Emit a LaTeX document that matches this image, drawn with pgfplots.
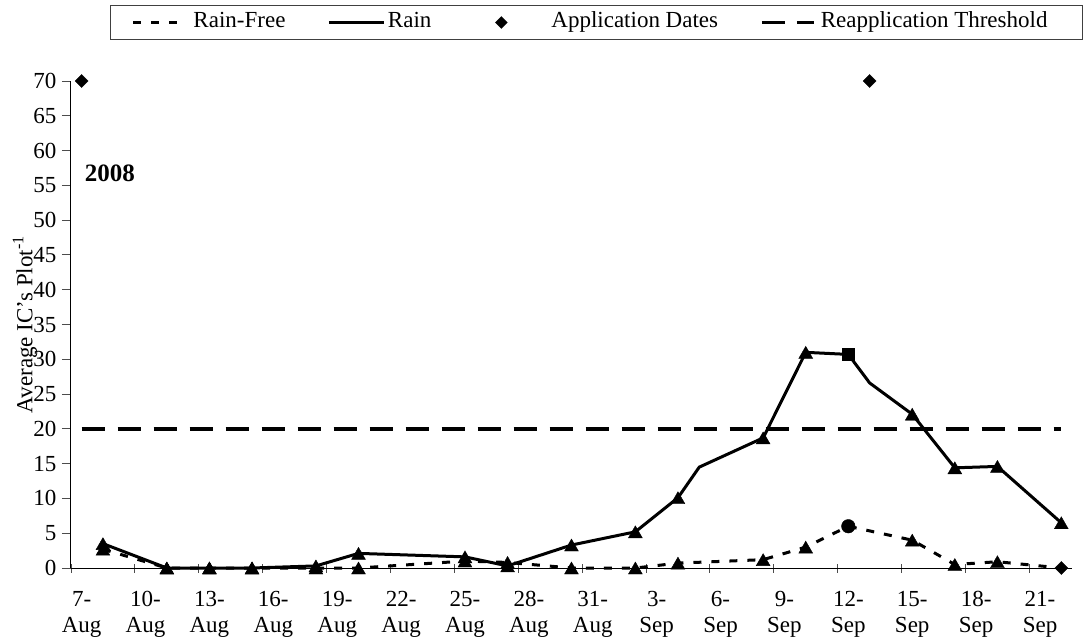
\documentclass[border=0pt]{standalone}
\usepackage{fontspec}
\setmainfont{Liberation Serif}
\usepackage{pgfplots}
\pgfplotsset{compat=1.18}
\newcommand{\dl}[2]{\strut #1\\\strut #2}
\begin{document}
\begin{tikzpicture}[font=\fontsize{23}{27}\selectfont]
\begin{axis}[
  scale only axis, width=1001pt, height=487pt,
  xmin=-0.5, xmax=46.5, ymin=0, ymax=70,
  axis x line*=bottom, axis y line*=left,
  axis line style={black, line width=1pt},
  clip=false,
  xtick={-0.5,2.5,5.5,8.5,11.5,14.5,17.5,20.5,23.5,26.5,29.5,32.5,35.5,38.5,41.5,44.5},
  xticklabels={{\dl{7-}{Aug}},{\dl{10-}{Aug}},{\dl{13-}{Aug}},{\dl{16-}{Aug}},{\dl{19-}{Aug}},{\dl{22-}{Aug}},{\dl{25-}{Aug}},{\dl{28-}{Aug}},{\dl{31-}{Aug}},{\dl{3-}{Sep}},{\dl{6-}{Sep}},{\dl{9-}{Sep}},{\dl{12-}{Sep}},{\dl{15-}{Sep}},{\dl{18-}{Sep}},{\dl{21-}{Sep}}},
  xticklabel style={align=center, font=\fontsize{23}{25.5}\selectfont, xshift=10.65pt, inner sep=0pt, anchor=north, yshift=-16pt},
  xtick align=center, ytick align=outside,
  major tick length=9pt,
  x tick style={black!70, line width=0.9pt},
  ytick={0,5,...,70},
  y tick style={black!70, line width=0.9pt},
  /pgf/number format/assume math mode=true,
  yticklabel style={font=\fontsize{23}{27}\selectfont, xshift=-2pt},
  ylabel={Average IC's Plot\textsuperscript{-1}},
  every axis y label/.style={at={(axis description cs:-0.046,0.5)}, rotate=90, anchor=center},
  legend style={at={(0.03896,1.15606)}, anchor=north west, draw=black!75, line width=1pt, inner xsep=0pt, inner ysep=6.5pt, column sep=0pt, nodes={inner sep=0pt, text height=16pt, text depth=5pt}},
  legend columns=4,
]
\addlegendimage{legend image code/.code={
  \path[draw=none, fill=none] (0pt,-2pt) rectangle (83pt,2pt);
  \draw[black, line width=3pt, dash pattern=on 8pt off 10pt] (23pt,0pt) -- (67pt,0pt);}}
\addlegendentry{Rain-Free\hspace*{42pt}}
\addlegendimage{legend image code/.code={
  \path[draw=none, fill=none] (0pt,-2pt) rectangle (59pt,2pt);
  \draw[black, line width=3pt] (0pt,0pt) -- (55pt,0pt);}}
\addlegendentry{Rain\hspace*{50pt}}
\addlegendimage{legend image code/.code={
  \path[draw=none, fill=none] (0pt,-2pt) rectangle (70pt,2pt);
  \path[fill=black, draw=none] (20pt,6.3pt) -- (26.3pt,0pt) -- (20pt,-6.3pt) -- (13.7pt,0pt) -- cycle;}}
\addlegendentry{Application Dates\hspace*{42pt}}
\addlegendimage{legend image code/.code={
  \path[draw=none, fill=none] (0pt,-2pt) rectangle (59pt,2pt);
  \draw[black, line width=3.3pt, dash pattern=on 23pt off 12pt] (0pt,0pt) -- (52pt,0pt);}}
\addlegendentry{Reapplication Threshold\hspace*{35pt}}

% threshold
\addplot[forget plot, black, line width=3.3pt, dash pattern=on 23pt off 13pt] coordinates {(0,20) (46,20)};
% rain-free
\addplot[forget plot, black, line width=3pt, dash pattern=on 8pt off 10pt] coordinates {
(1,2.7)(4,0)(6,0)(8,0)(11,0)(13,0)(18,1.0)(20,0.8)(23,0)(26,0)(28,0.7)(32,1.2)(34,3.0)(36,6.0)(39,4.0)(41,0.5)(43,0.9)(46,0)};
\addplot[forget plot, black, only marks, mark=triangle*, mark size=8pt, mark options={yshift=-2pt}] coordinates {
(1,2.7)(4,0)(6,0)(8,0)(11,0)(13,0)(18,1.0)(20,0.8)(23,0)(26,0)(28,0.7)(32,1.2)(34,3.0)(39,4.0)(41,0.5)(43,0.9)};
\addplot[forget plot, black, only marks, mark=*, mark size=6.8pt] coordinates {(36,6.0)};
\addplot[forget plot, black, only marks, mark=square*, mark size=4.6pt, mark options={rotate=45}] coordinates {(46,0)};
% rain
\addplot[forget plot, black, line width=3pt] coordinates {
(1,3.5)(4,0)(6,0)(8,0)(11,0.3)(13,2.1)(18,1.6)(20,0.3)(23,3.3)(26,5.2)(28,10.1)(29,14.5)(32,18.7)(34,31.0)(36,30.7)(37,26.6)(39,22.1)(41,14.4)(43,14.6)(46,6.5)};
\addplot[forget plot, black, only marks, mark=triangle*, mark size=8pt, mark options={yshift=-2pt}] coordinates {
(1,3.5)(4,0)(6,0)(8,0)(11,0.3)(13,2.1)(18,1.6)(20,0.3)(23,3.3)(26,5.2)(28,10.1)(32,18.7)(34,31.0)(39,22.1)(41,14.4)(43,14.6)(46,6.5)};
\addplot[forget plot, black, only marks, mark=square*, mark size=6pt] coordinates {(36,30.7)};
% application dates
\addplot[forget plot, black, only marks, mark=square*, mark size=4.6pt, mark options={rotate=45}] coordinates {(0,70)(37,70)};

\node[font=\bfseries\fontsize{25}{30}\selectfont] at (axis cs:1.33,56.8) {2008};
\end{axis}
\path ([xshift=-71pt,yshift=-75pt]current axis.south west) rectangle ([xshift=1015pt,yshift=568pt]current axis.south west);
\end{tikzpicture}
\end{document}
